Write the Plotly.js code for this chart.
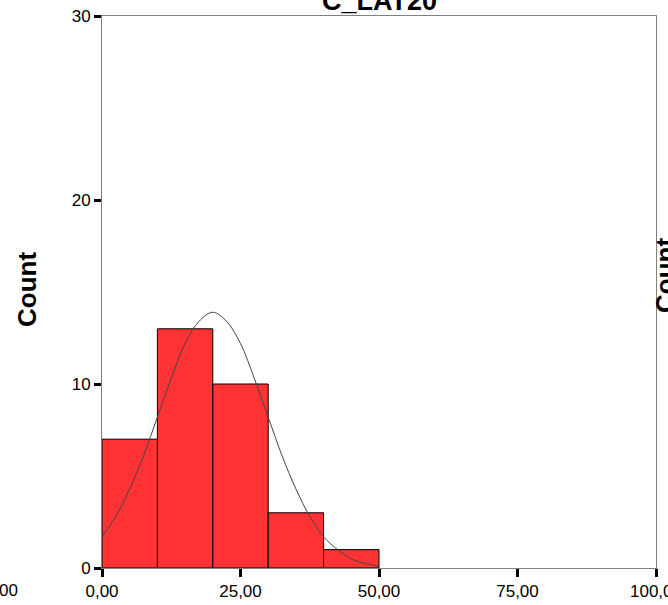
<!DOCTYPE html>
<html>
<head>
<meta charset="utf-8">
<script src="https://cdn.plot.ly/plotly-3.0.1.min.js"></script>
<style>html,body{margin:0;padding:0;background:#fff;overflow:hidden}#chart{width:668px;height:605px}</style>
</head>
<body>
<div id="chart"></div>
<script>
// Histogram bins (midpoints of 10-wide bins) and counts
const binMids = [5, 15, 25, 35, 45];
const binWidth = [10, 10, 10, 10, 10];
const counts = [7, 13, 10, 3, 1];

// Normal curve overlay
const curveX = [0, 2.5, 5, 7.5, 10, 12.5, 15, 17.5, 20, 22.5, 25, 27.5, 30, 32.5, 35, 37.5, 40, 42.5, 45, 47.5, 50];
const curveY = [1.7, 2.8, 4.3, 6.1, 8.2, 10.3, 12.2, 13.4, 13.9, 13.4, 12.2, 10.3, 8.2, 6.1, 4.3, 2.8, 1.7, 1.0, 0.5, 0.25, 0.1];

// Tick labels
const xTickVals = [0, 25, 50, 75, 100];
const xTickText = ["0,00", "25,00", "50,00", "75,00", "100,00"];
const yTickVals = [0, 10, 20, 30];
const yTickText = ["0", "10", "20", "30"];

const titleText = "C_LAT20";
const yTitle = "Count";

const font = "Arial, 'Liberation Sans', sans-serif";

const traces = [
  {
    type: "bar",
    x: binMids,
    y: counts,
    width: binWidth,
    marker: {color: "#ff3333", line: {color: "#000000", width: 1}},
    hoverinfo: "skip"
  },
  {
    type: "scatter",
    mode: "lines",
    x: curveX,
    y: curveY,
    line: {color: "#444444", width: 1, shape: "spline"},
    hoverinfo: "skip"
  }
];

const layout = {
  width: 668,
  height: 605,
  margin: {l: 102, r: 12, t: 16, b: 37},
  paper_bgcolor: "#ffffff",
  plot_bgcolor: "#ffffff",
  showlegend: false,
  font: {family: font, color: "#000000", size: 17},
  xaxis: {
    range: [0, 100],
    tickvals: xTickVals,
    ticktext: xTickText,
    ticks: "outside",
    ticklen: 8,
    tickwidth: 3,
    tickcolor: "#000000",
    ticklabeloverflow: "allow",
    showline: true,
    linecolor: "#808080",
    linewidth: 1,
    mirror: true,
    showgrid: false,
    zeroline: false,
    tickfont: {size: 17, family: font},
    fixedrange: true
  },
  yaxis: {
    range: [0, 30],
    tickvals: yTickVals,
    ticktext: yTickText,
    ticks: "outside",
    ticklen: 7,
    tickwidth: 3,
    tickcolor: "#000000",
    ticklabeloverflow: "allow",
    showline: true,
    linecolor: "#808080",
    linewidth: 1,
    mirror: true,
    showgrid: false,
    zeroline: false,
    tickfont: {size: 17, family: font},
    fixedrange: true
  },
  annotations: [
    {
      text: "<b>" + titleText + "</b>",
      xref: "paper", yref: "paper", x: 0.5, y: 1,
      xanchor: "center", yanchor: "bottom", yshift: -2,
      showarrow: false,
      font: {size: 27, family: font}
    },
    {
      text: "<b>" + yTitle + "</b>",
      xref: "paper", yref: "paper", x: 0, y: 0.5,
      xshift: -75, yshift: 2,
      xanchor: "center", yanchor: "middle",
      textangle: -90,
      showarrow: false,
      font: {size: 26, family: font}
    },
    {
      text: "<b>" + yTitle + "</b>",
      xref: "paper", yref: "paper", x: 1, y: 0.5,
      xshift: 9, yshift: 16,
      xanchor: "center", yanchor: "middle",
      textangle: -90,
      showarrow: false,
      font: {size: 26, family: font}
    },
    {
      text: "100,00",
      xref: "paper", yref: "paper", x: 0, y: 0,
      xshift: -82, yshift: -22,
      xanchor: "right", yanchor: "middle",
      showarrow: false,
      font: {size: 17, family: font}
    }
  ]
};

Plotly.newPlot("chart", traces, layout, {staticPlot: true, displayModeBar: false});
</script>
</body>
</html>
